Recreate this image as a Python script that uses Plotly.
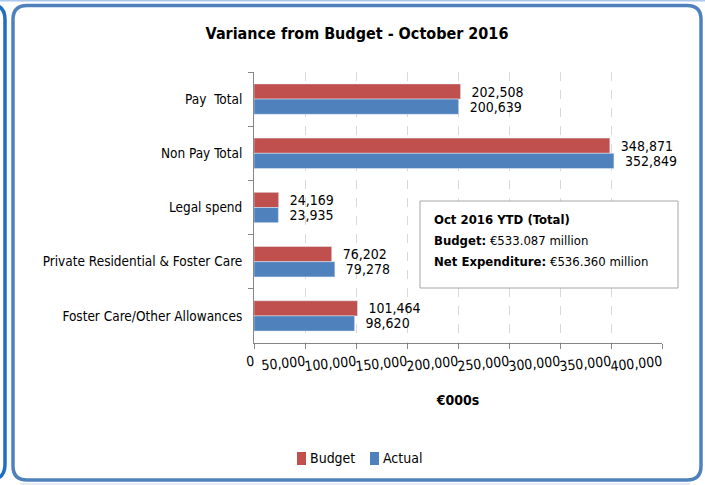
import plotly.graph_objects as go

categories = ["Pay  Total", "Non Pay Total", "Legal spend",
              "Private Residential & Foster Care", "Foster Care/Other Allowances"]
budget = [202508, 348871, 24169, 76202, 101464]
actual = [200639, 352849, 23935, 79278, 98620]
series_names = ["Budget", "Actual"]
tick_vals = [0, 50000, 100000, 150000, 200000, 250000, 300000, 350000, 400000]
tick_text = ["0", "50,000", "100,000", "150,000", "200,000", "250,000", "300,000", "350,000", "400,000"]

RED = "#C0504D"
BLUE = "#4F81BD"
FONT = "DejaVu Sans Condensed, Liberation Sans Narrow, sans-serif"

W, H = 705, 485
L, R, T, B = 254, 662, 72, 343


def px(x):
    return (x - L) / (R - L)


def py(y):
    return (B - y) / (B - T)


def rounded(x0, y0, x1, y1, r):
    return (f"M {px(x0 + r)},{py(y0)} L {px(x1 - r)},{py(y0)} "
            f"Q {px(x1)},{py(y0)} {px(x1)},{py(y0 + r)} "
            f"L {px(x1)},{py(y1 - r)} Q {px(x1)},{py(y1)} {px(x1 - r)},{py(y1)} "
            f"L {px(x0 + r)},{py(y1)} Q {px(x0)},{py(y1)} {px(x0)},{py(y1 - r)} "
            f"L {px(x0)},{py(y0 + r)} Q {px(x0)},{py(y0)} {px(x0 + r)},{py(y0)} Z")


fig = go.Figure()
for name, vals, col in zip(series_names, [budget, actual], [RED, BLUE]):
    fig.add_trace(go.Bar(
        name=name, y=categories, x=vals, orientation="h",
        marker=dict(color=col), text=[f"{v:,}" for v in vals],
        texttemplate="  %{text}", textposition="outside", cliponaxis=False,
        constraintext="none", showlegend=False,
        textfont=dict(family=FONT, size=14, color="#000000"),
    ))

shapes = [
    dict(type="line", xref="paper", yref="paper", x0=px(0), x1=px(705), y0=py(0.5), y1=py(0.5),
         line=dict(color="#A9C8EA", width=2), layer="below"),
    dict(type="line", xref="paper", yref="paper", x0=px(20), x1=px(690), y0=py(484), y1=py(484),
         line=dict(color="#DCE8F5", width=1.5), layer="below"),
    dict(type="path", xref="paper", yref="paper", path=rounded(13, 5.5, 701, 480, 14),
         line=dict(color="#4F81BD", width=3.5), layer="below"),
    dict(type="path", xref="paper", yref="paper",
         path=f"M {px(-8)},{py(5)} Q {px(5)},{py(5)} {px(5)},{py(20)} L {px(5)},{py(464)} "
              f"Q {px(5)},{py(479)} {px(-8)},{py(479)}",
         line=dict(color="#1F6FC0", width=3.5), layer="below"),
    dict(type="rect", xref="paper", yref="paper", x0=px(420), x1=px(678), y0=py(201), y1=py(288),
         line=dict(color="#A6A6A6", width=1), fillcolor="white", layer="above"),
]

annotations = [
    dict(xref="paper", yref="paper", x=px(432), y=py(219), xanchor="left", yanchor="middle",
         text="<b>Oct 2016 YTD (Total)</b>", showarrow=False,
         font=dict(family=FONT, size=13, color="#000000")),
    dict(xref="paper", yref="paper", x=px(432), y=py(240), xanchor="left", yanchor="middle",
         text="<b>Budget:</b> €533.087 million", showarrow=False,
         font=dict(family=FONT, size=13, color="#000000")),
    dict(xref="paper", yref="paper", x=px(432), y=py(261), xanchor="left", yanchor="middle",
         text="<b>Net Expenditure:</b> €536.360 million", showarrow=False,
         font=dict(family=FONT, size=13, color="#000000")),
]

# legend (drawn to match the compact Excel-style legend)
legend_x = [297, 370]
for name, col, lx in zip(series_names, [RED, BLUE], legend_x):
    shapes.append(dict(type="rect", xref="paper", yref="paper",
                       x0=px(lx), x1=px(lx + 9), y0=py(452), y1=py(465),
                       line=dict(width=0), fillcolor=col))
    annotations.append(dict(xref="paper", yref="paper", x=px(lx + 11), y=py(458),
                            xanchor="left", yanchor="middle", text=name, showarrow=False,
                            font=dict(family=FONT, size=14, color="#000000")))

fig.update_layout(
    width=W, height=H,
    margin=dict(l=L, r=W - R, t=T, b=H - B, pad=0, autoexpand=False),
    paper_bgcolor="white", plot_bgcolor="white",
    barmode="group", bargap=0.44, bargroupgap=0,
    title=dict(text="<b>Variance from Budget - October 2016</b>", x=(357 / W), xanchor="center",
               y=1 - 33 / H, yanchor="middle", font=dict(family=FONT, size=16, color="#000000")),
    font=dict(family=FONT, size=14, color="#000000"),
    showlegend=False,
    shapes=shapes, annotations=annotations,
)
fig.update_xaxes(
    range=[0, 400000], tickvals=tick_vals, ticktext=tick_text, tickangle=-6,
    showgrid=True, gridcolor="#D9D9D9", griddash="dash", gridwidth=1,
    showline=True, linecolor="#868686", linewidth=1,
    ticks="outside", ticklen=5, tickcolor="#868686",
    tickfont=dict(family=FONT, size=14, color="#000000"),
    title=dict(text="<b>€000s</b>", font=dict(family=FONT, size=14, color="#000000"), standoff=22),
    zeroline=False, automargin=False,
)
fig.update_yaxes(
    autorange="reversed", showline=True, linecolor="#868686", linewidth=1,
    ticks="outside", ticklen=5, tickcolor="#868686", tickson="boundaries",
    tickfont=dict(family=FONT, size=13.5, color="#000000"), showgrid=False,
    ticklabelstandoff=8, automargin=False,
)

fig.write_html("out.html", config={"displayModeBar": False},
               post_script="document.body.style.margin='0px';")
